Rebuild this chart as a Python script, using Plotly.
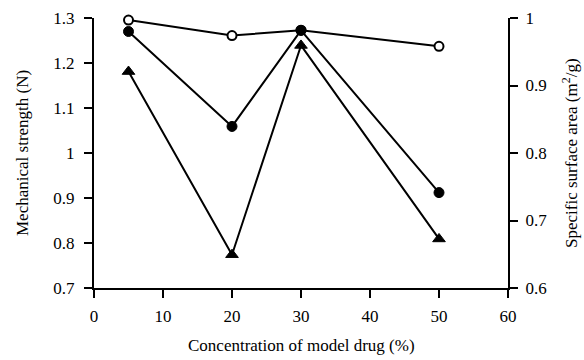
import plotly.graph_objects as go

conc = [5, 20, 30, 50]
strength_circle = [1.270, 1.059, 1.2725, 0.912]
strength_triangle = [1.181, 0.774, 1.239, 0.809]
surface_area = [0.997, 0.974, 0.982, 0.958]

font = dict(family="Liberation Serif", size=17, color="black")

fig = go.Figure()
# surface area on primary y (drawn on the right side, underneath)
fig.add_trace(go.Scatter(x=conc, y=surface_area, yaxis="y", mode="lines+markers",
                         line=dict(color="black", width=2), cliponaxis=False,
                         marker=dict(symbol="circle", size=9, color="white",
                                     line=dict(color="black", width=2)),
                         showlegend=False))
# mechanical strength on overlay axis (left side, drawn on top)
fig.add_trace(go.Scatter(x=conc, y=strength_triangle, yaxis="y2", mode="lines+markers",
                         line=dict(color="black", width=2), cliponaxis=False,
                         marker=dict(symbol="triangle-up", size=11, color="black",
                                     line=dict(color="black", width=1)),
                         showlegend=False))
fig.add_trace(go.Scatter(x=conc, y=strength_circle, yaxis="y2", mode="lines+markers",
                         line=dict(color="black", width=2), cliponaxis=False,
                         marker=dict(symbol="circle", size=10, color="black",
                                     line=dict(color="black", width=1)),
                         showlegend=False))

axis_common = dict(showgrid=False, zeroline=False, showline=True, linecolor="black",
                   linewidth=2, ticks="outside", ticklen=8, tickwidth=2,
                   tickcolor="black", tickfont=font, automargin=False)

fig.update_layout(
    width=584, height=360,
    margin=dict(l=94, r=76, t=18, b=72),
    paper_bgcolor="white", plot_bgcolor="white",
    font=font,
    xaxis=dict(range=[0, 60], tickvals=[0, 10, 20, 30, 40, 50, 60],
               ticklabelstandoff=4, **axis_common),
    yaxis=dict(range=[0.6, 1.0], tickvals=[0.6, 0.7, 0.8, 0.9, 1.0],
               side="right", ticklabelstandoff=4, **axis_common),
    yaxis2=dict(range=[0.7, 1.3], tickvals=[0.7, 0.8, 0.9, 1.0, 1.1, 1.2, 1.3],
                overlaying="y", side="left", ticklabelstandoff=6, **axis_common),
    annotations=[
        dict(text="Concentration of model drug (%)", xref="paper", yref="paper",
             x=0.5, y=-57/270, xanchor="center", yanchor="middle",
             showarrow=False, font=font),
        dict(text="Mechanical strength (N)", xref="paper", yref="paper",
             x=-72/414, y=0.5, xanchor="center", yanchor="middle", textangle=-90,
             showarrow=False, font=font),
        dict(text="Specific surface area (m<sup>2</sup>/g)", xref="paper", yref="paper",
             x=1 + 62/414, y=0.5, xanchor="center", yanchor="middle", textangle=-90,
             showarrow=False, font=font),
    ],
)

fig.write_html("out.html")
